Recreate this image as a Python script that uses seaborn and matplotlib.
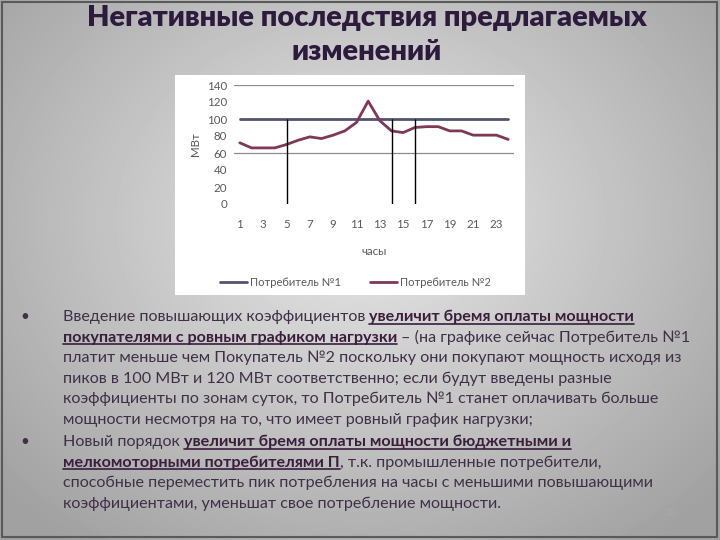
import numpy as np
import pandas as pd
import matplotlib
matplotlib.use('Agg')
import matplotlib.pyplot as plt
import seaborn as sns

# chart data
hours = list(range(1, 25))
consumer1 = [100] * 24
consumer2 = [72, 66, 66, 66, 70, 75, 79, 77, 81, 86, 96, 121,
             98, 86, 84, 90, 91, 91, 86, 86, 81, 81, 81, 76]
zone_marks = [5, 14, 16]
grid_levels = [60, 140]
y_ticks = [0, 20, 40, 60, 80, 100, 120, 140]
x_ticks = list(range(1, 24, 2))
series_names = ['Потребитель №1', 'Потребитель №2']

title_lines = ['Негативные последствия предлагаемых', 'изменений']

# body text: (text, bold+underline)
bullet1 = [
    [('Введение повышающих коэффициентов ', False), ('увеличит бремя оплаты мощности', True)],
    [('покупателями с ровным графиком нагрузки ', True), ('– (на графике сейчас Потребитель №1', False)],
    [('платит меньше чем Покупатель №2 поскольку они покупают мощность исходя из', False)],
    [('пиков в 100 МВт и 120 МВт соответственно; если будут введены разные', False)],
    [('коэффициенты по зонам суток, то Потребитель №1 станет оплачивать больше', False)],
    [('мощности несмотря на то, что имеет ровный график нагрузки;', False)],
]
bullet2 = [
    [('Новый порядок ', False), ('увеличит бремя оплаты мощности бюджетными и', True)],
    [('мелкомоторными потребителями П', True), (', т.к. промышленные потребители,', False)],
    [('способные переместить пик потребления на часы с меньшими повышающими', False)],
    [('коэффициентами, уменьшат свое потребление мощности.', False)],
]

sns.set_theme(style='white')
plt.rcParams['font.family'] = ['Lato', 'DejaVu Sans']

W, H = 720, 540
fig = plt.figure(figsize=(7.2, 5.4), dpi=100)

# slide background: radial grey gradient
bg = fig.add_axes([0, 0, 1, 1])
yy, xx = np.mgrid[0:H, 0:W]
r = np.sqrt(((xx - 360) / 400.0) ** 2 + ((yy - 220) / 330.0) ** 2)
shade = np.clip(0.91 - 0.23 * r, 0.63, 1)
bg.imshow(shade, cmap='gray', vmin=0, vmax=1, aspect='auto', extent=[0, W, H, 0])
bg.add_patch(plt.Rectangle((2, 2), W - 5, H - 5, fill=False, ec='#5a5a5a', lw=1.5))
bg.set_xlim(0, W)
bg.set_ylim(H, 0)
bg.axis('off')

# white chart box
box = fig.add_axes([175 / W, 1 - 295 / H, 350 / W, 220 / H])
box.set_facecolor('white')
box.set_xticks([])
box.set_yticks([])
for s in box.spines.values():
    s.set_visible(False)

ax = fig.add_axes([234 / W, 1 - 204 / H, 280 / W, 119 / H])
ax.set_facecolor('none')

df = pd.DataFrame({
    'час': hours * 2,
    'МВт': consumer1 + consumer2,
    'series': [series_names[0]] * 24 + [series_names[1]] * 24,
})
for lv in grid_levels:
    ax.axhline(lv, color='#8c8c8c', lw=0.9, zorder=1)
sns.lineplot(data=df, x='час', y='МВт', hue='series',
             palette=['#50546f', '#7e3858'], linewidth=2, ax=ax, zorder=3)
ax.vlines(zone_marks, 0, 100, color='black', lw=1, zorder=4)

ax.set_xlim(0.5, 24.5)
ax.set_ylim(0, 140)
ax.set_xticks(x_ticks)
ax.set_yticks(y_ticks)
for s in ax.spines.values():
    s.set_visible(False)
ax.tick_params(axis='both', length=0, labelsize=8.3, labelcolor='#595959')
ax.tick_params(axis='x', pad=11)
ax.tick_params(axis='y', pad=5)
ax.set_xlabel('часы', fontsize=8.3, color='#595959', labelpad=11)
ax.set_ylabel('МВт', fontsize=8.3, color='#595959', labelpad=4)
sns.move_legend(ax, loc='center', bbox_to_anchor=(0.435, -0.66), ncol=2,
                frameon=False, title=None, fontsize=8, handlelength=2.4,
                columnspacing=2.6, handletextpad=0.3)
for t in ax.get_legend().get_texts():
    t.set_color('#595959')

# title
for i, line in enumerate(title_lines):
    fig.text(367 / W, 1 - (18 + 34 * i) / H, line, ha='center', va='center',
             fontsize=21, fontweight='heavy', color='#2d1b3e')

# body text with bold underlined pieces
renderer = fig.canvas.get_renderer()
body_size = 11.6
reg_color = '#3f3048'
bold_color = '#3a1e3c'


def text_width(s, bold):
    wt = 'bold' if bold else 'normal'
    a = fig.text(0, 0, s + 'x', fontsize=body_size, fontweight=wt)
    b = fig.text(0, 0, 'x', fontsize=body_size, fontweight=wt)
    w = a.get_window_extent(renderer).width - b.get_window_extent(renderer).width
    a.remove()
    b.remove()
    return w


def draw_line(y_px, segments, x0=63):
    x = x0
    for s, bold in segments:
        fig.text(x / W, 1 - y_px / H, s, fontsize=body_size, va='baseline', ha='left',
                 fontweight='bold' if bold else 'normal',
                 color=bold_color if bold else reg_color)
        w = text_width(s, bold)
        if bold:
            wu = text_width(s.rstrip(), bold)
            fig.add_artist(plt.Line2D([x / W, (x + wu) / W],
                                      [1 - (y_px + 2.5) / H] * 2,
                                      color=bold_color, lw=1.2))
        x += w


y = 321
fig.text(20 / W, 1 - y / H, '•', fontsize=11, va='baseline', color=reg_color)
for seg in bullet1:
    draw_line(y, seg)
    y += 20.6
y += 1.5
fig.text(20 / W, 1 - y / H, '•', fontsize=11, va='baseline', color=reg_color)
for seg in bullet2:
    draw_line(y, seg)
    y += 20.6

fig.text(670 / W, 1 - 513 / H, '30', fontsize=8, color='#a9a9a9', ha='center', va='center')

fig.savefig('out.png', dpi=100)
